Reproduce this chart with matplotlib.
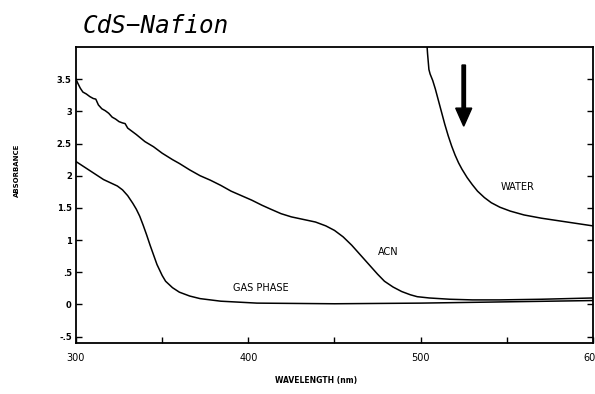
import matplotlib
matplotlib.use("Agg")
import matplotlib.pyplot as plt

# absorbance spectra (wavelength nm, absorbance)
acn_wl = [300, 301, 302.5, 304, 306, 308, 310, 311.5, 313, 315, 317, 319, 321,
          323, 325, 327, 328.5, 330, 335, 340, 345, 350, 356, 360, 366, 372, 378,
          384, 390, 396, 402, 408, 413, 419, 425, 432, 439, 445, 450, 455, 460,
          465, 470, 475, 479, 484, 489, 494, 498, 505, 517, 530, 546, 570, 600]
acn_abs = [3.50, 3.44, 3.36, 3.30, 3.27, 3.23, 3.20, 3.19, 3.10, 3.04, 3.01, 2.97,
           2.91, 2.88, 2.84, 2.82, 2.81, 2.74, 2.64, 2.53, 2.45, 2.35, 2.25, 2.19,
           2.09, 2.00, 1.93, 1.85, 1.76, 1.69, 1.62, 1.54, 1.48, 1.41, 1.36, 1.32,
           1.28, 1.22, 1.15, 1.05, 0.92, 0.77, 0.62, 0.47, 0.36, 0.27, 0.20, 0.15,
           0.12, 0.10, 0.08, 0.07, 0.07, 0.08, 0.10]

gas_wl = [300, 304, 308, 312, 316, 320, 324, 327, 330, 333, 335, 337, 339, 341,
          343, 345, 347, 350, 352, 356, 360, 366, 372, 384, 405, 450, 500, 550, 600]
gas_abs = [2.22, 2.15, 2.08, 2.01, 1.94, 1.89, 1.84, 1.78, 1.69, 1.57, 1.48, 1.37,
           1.23, 1.08, 0.92, 0.77, 0.62, 0.45, 0.36, 0.26, 0.19, 0.13, 0.09, 0.05,
           0.02, 0.01, 0.02, 0.04, 0.06]

water_wl = [503, 504, 504.8, 505.5, 507, 508.5, 510, 512, 514, 516, 518, 520, 522,
            524, 527, 530, 533, 537, 541, 546, 552, 560, 570, 580, 590, 600]
water_abs = [4.3, 3.9, 3.65, 3.58, 3.48, 3.35, 3.20, 3.00, 2.80, 2.62, 2.46, 2.32,
             2.20, 2.10, 1.97, 1.86, 1.76, 1.66, 1.58, 1.51, 1.45, 1.39, 1.34,
             1.30, 1.26, 1.22]

x_ticks = [300, 350, 400, 450, 500, 550, 600]
x_ticklabels = ["300", "", "400", "", "500", "", "600"]
y_ticks = [-0.5, 0, 0.5, 1, 1.5, 2, 2.5, 3, 3.5]
y_ticklabels = ["-.5", "0", ".5", "1", "1.5", "2", "2.5", "3", "3.5"]

fig = plt.figure(figsize=(5.95, 3.94), dpi=100)
ax = fig.add_axes([0.1277, 0.1294, 0.8689, 0.7513])

for wl, ab in [(acn_wl, acn_abs), (gas_wl, gas_abs), (water_wl, water_abs)]:
    ax.plot(wl, ab, color="black", lw=1.1)

ax.set_xlim(300, 600)
ax.set_ylim(-0.6, 4.0)
ax.set_xticks(x_ticks)
ax.set_xticklabels(x_ticklabels)
ax.set_yticks(y_ticks)
ax.set_yticklabels(y_ticklabels, fontweight="bold")
ax.tick_params(direction="in", length=4, width=1, right=True, top=False,
               colors="black")
ax.tick_params(axis="x", labelsize=7, pad=7)
ax.tick_params(axis="y", labelsize=6, pad=3)
for sp in ax.spines.values():
    sp.set_linewidth(1.3)

# curve labels and the arrow
ax.text(556, 1.82, "WATER", fontsize=7, ha="center", va="center")
ax.text(481, 0.82, "ACN", fontsize=7, ha="center", va="center")
ax.text(407.5, 0.26, "GAS PHASE", fontsize=7, ha="center", va="center")
ax.arrow(525, 3.72, 0, -0.95, width=2.0, head_width=9.3, head_length=0.28,
         length_includes_head=True, color="black")

fig.text(83 / 595, 1 - 33 / 394, "CdS\u2212Nafion", fontsize=17.5,
         family="DejaVu Sans Mono", style="italic", ha="left", va="baseline")
fig.text(316 / 595, 1 - 380 / 394, "WAVELENGTH (nm)", fontsize=5.5,
         fontweight="bold", ha="center", va="center")
fig.text(17 / 595, 1 - 170 / 394, "ABSORBANCE", fontsize=5, fontweight="bold",
         rotation=90, ha="center", va="center")

fig.savefig("out.png", dpi=100)
